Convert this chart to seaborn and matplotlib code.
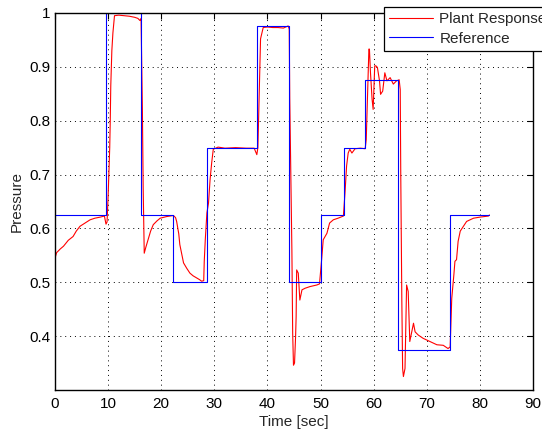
import numpy as np
import pandas as pd
import matplotlib
matplotlib.use("Agg")
import matplotlib.pyplot as plt
import seaborn as sns

# ==========================================
# Data
# ==========================================
# reference set-point (piecewise constant, switch times in sec)
ref_time = [0, 9.6, 16.1, 22.3, 28.7, 38.0, 44.0, 50.0, 54.4, 58.4, 64.5, 74.4, 81.8]
ref_level = [0.625, 1.0, 0.625, 0.5, 0.75, 0.975, 0.5, 0.625, 0.75, 0.875, 0.375, 0.625, 0.625]

# measured plant response
plant_time = [
    0, 0.3, 1.0, 1.6, 2.5, 3.4, 4.0, 4.7, 5.5, 6.6, 7.5, 8.5, 9.3, 9.6, 9.8,
    10.0, 10.3, 10.4, 10.5, 10.7, 10.9, 11.2, 12.0, 13.0, 14.0, 15.0, 15.6, 16.0,
    16.2, 16.45, 16.6, 16.8, 17.1, 17.6, 18.0, 18.5, 19.2, 19.8, 21.0, 22.3, 22.7,
    22.9, 23.3, 23.5, 23.9, 24.2, 24.8, 25.4, 26.0, 26.7, 27.2, 27.6, 28.0, 28.1,
    28.3, 28.6, 28.9, 29.2, 29.5, 29.8, 30.7, 32.0, 34.0, 36.0, 37.5, 38.0, 38.2,
    38.5, 38.7, 39.2, 40.0, 41.0, 42.0, 43.0, 43.9, 44.1, 44.2, 44.6, 44.75, 44.9,
    45.1, 45.3, 45.4, 45.5, 45.8, 46.1, 46.5, 47.1, 48.0, 49.3, 49.8, 50.2, 50.5,
    51.2, 51.7, 52.4, 53.3, 54.3, 54.6, 54.9, 55.2, 55.5, 55.9, 56.5, 57.5, 58.4,
    58.6, 58.8, 59.1, 59.2, 59.4, 59.7, 59.9, 60.2, 60.4, 60.7, 61.1, 61.3, 61.7,
    62.1, 62.5, 63.1, 63.7, 64.3, 64.8, 65.0, 65.1, 65.3, 65.45, 65.6, 65.9, 66.2,
    66.5, 66.8, 67.1, 67.5, 67.8, 68.4, 69.3, 70.6, 71.9, 73.1, 74.0, 74.4, 74.7,
    75.1, 75.3, 75.6, 75.9, 76.3, 76.9, 77.5, 78.8, 80.0, 81.6, 81.8,
]
plant_pressure = [
    0.545, 0.555, 0.562, 0.567, 0.578, 0.585, 0.595, 0.604, 0.609, 0.616, 0.619, 0.621, 0.623, 0.608, 0.612,
    0.66, 0.75, 0.80, 0.865, 0.93, 0.963, 0.995, 0.996, 0.995, 0.994, 0.992, 0.990, 0.986,
    0.99, 0.823, 0.675, 0.554, 0.565, 0.582, 0.595, 0.607, 0.614, 0.619, 0.622, 0.624, 0.62,
    0.613, 0.59, 0.570, 0.55, 0.536, 0.526, 0.517, 0.512, 0.508, 0.505, 0.502, 0.503, 0.539,
    0.58, 0.629, 0.647, 0.691, 0.722, 0.747, 0.751, 0.749, 0.750, 0.749, 0.749, 0.737, 0.75,
    0.871, 0.952, 0.973, 0.974, 0.973, 0.973, 0.972, 0.976, 0.97, 0.84, 0.56, 0.405, 0.346,
    0.35, 0.40, 0.436, 0.523, 0.517, 0.467, 0.486, 0.489, 0.492, 0.495, 0.497, 0.542, 0.579,
    0.591, 0.61, 0.616, 0.619, 0.623, 0.666, 0.716, 0.740, 0.747, 0.740, 0.748, 0.749, 0.748,
    0.765, 0.834, 0.933, 0.933, 0.889, 0.84, 0.821, 0.902, 0.902, 0.899, 0.874, 0.849, 0.855,
    0.889, 0.874, 0.880, 0.868, 0.874, 0.876, 0.858, 0.70, 0.467, 0.34, 0.325, 0.34, 0.495,
    0.483, 0.390, 0.405, 0.424, 0.408, 0.402, 0.396, 0.390, 0.384, 0.383, 0.377, 0.38, 0.470,
    0.514, 0.539, 0.542, 0.576, 0.595, 0.604, 0.613, 0.619, 0.621, 0.623, 0.625,
]

x_ticks = [0, 10, 20, 30, 40, 50, 60, 70, 80, 90]
y_ticks = [0.4, 0.5, 0.6, 0.7, 0.8, 0.9, 1.0]
y_tick_labels = ["0.4", "0.5", "0.6", "0.7", "0.8", "0.9", "1"]

plant_df = pd.DataFrame({"Time": plant_time, "Pressure": plant_pressure})
ref_df = pd.DataFrame({"Time": ref_time, "Pressure": ref_level})

# ==========================================
# Plot
# ==========================================
sns.set_style("white")
plt.rcParams["font.family"] = ["Liberation Sans", "DejaVu Sans"]

fig = plt.figure(figsize=(5.42, 4.29), dpi=100)
ax = fig.add_axes([0.1015, 0.0909, 0.8819, 0.8788])

sns.lineplot(data=plant_df, x="Time", y="Pressure", ax=ax, color="#ff0000",
             linewidth=0.8, estimator=None, sort=False, label="Plant Response")
sns.lineplot(data=ref_df, x="Time", y="Pressure", ax=ax, color="#0000ff",
             linewidth=0.8, estimator=None, sort=False, drawstyle="steps-post",
             label="Reference")

ax.set_xlim(0, 90)
ax.set_ylim(0.3, 1.0)
ax.set_xticks(x_ticks)
ax.set_yticks(y_ticks)
ax.set_yticklabels(y_tick_labels)
ax.tick_params(direction="in", top=True, right=True, labelsize=11, length=4,
               width=0.8, colors="black")
ax.tick_params(axis="x", pad=5)
ax.set_xlabel("Time [sec]", fontsize=11, labelpad=3)
ax.set_ylabel("Pressure", fontsize=11, labelpad=4)
ax.grid(True, linestyle=(0, (1, 4)), color="black", linewidth=0.7)
for spine in ax.spines.values():
    spine.set_visible(True)
    spine.set_color("black")
    spine.set_linewidth(1.0)

# legend sits partly outside the axes and runs off the right edge, like the original
leg = ax.legend(loc="upper left", bbox_to_anchor=(0.708, 0.984),
                bbox_transform=fig.transFigure, fontsize=11, frameon=True,
                fancybox=False, framealpha=1, edgecolor="black",
                handlelength=2.9, handletextpad=0.4, labelspacing=0.35,
                borderpad=0.35, borderaxespad=0)
leg.get_frame().set_linewidth(0.9)
leg.set_clip_on(False)

fig.savefig("out.png", dpi=100)
